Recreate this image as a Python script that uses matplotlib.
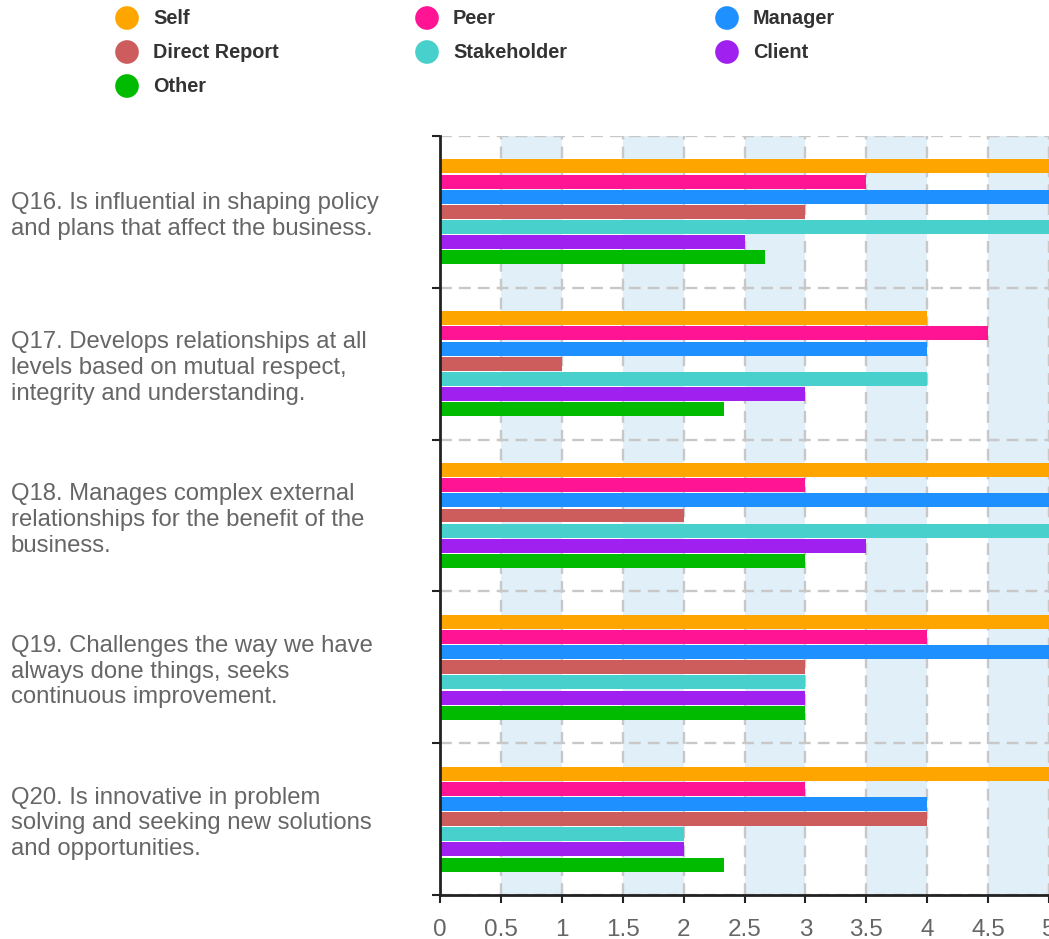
"""Grouped horizontal bar chart of 360 feedback scores."""
import numpy as np
import matplotlib.pyplot as plt
from matplotlib.ticker import FixedLocator

plt.rcParams['font.family'] = ['Liberation Sans', 'DejaVu Sans']

questions = [
    "Q16. Is influential in shaping policy\nand plans that affect the business.",
    "Q17. Develops relationships at all\nlevels based on mutual respect,\nintegrity and understanding.",
    "Q18. Manages complex external\nrelationships for the benefit of the\nbusiness.",
    "Q19. Challenges the way we have\nalways done things, seeks\ncontinuous improvement.",
    "Q20. Is innovative in problem\nsolving and seeking new solutions\nand opportunities.",
]
series = ["Self", "Peer", "Manager", "Direct Report", "Stakeholder", "Client", "Other"]
colors = ["#FFA500", "#FF1493", "#1E90FF", "#CD5C5C", "#48D1CC", "#A020F0", "#00BB00"]

self_scores = [5, 4, 5, 5, 5]
peer_scores = [3.5, 4.5, 3, 4, 3]
manager_scores = [5, 4, 5, 5, 4]
direct_scores = [3, 1, 2, 3, 4]
stakeholder_scores = [5, 4, 5, 3, 2]
client_scores = [2.5, 3, 3.5, 3, 2]
other_scores = [2.67, 2.33, 3, 3, 2.33]
scores = [self_scores, peer_scores, manager_scores, direct_scores,
          stakeholder_scores, client_scores, other_scores]

x_ticks = np.arange(0, 5.01, 0.5)
x_labels = ["0", "0.5", "1", "1.5", "2", "2.5", "3", "3.5", "4", "4.5", "5"]

fig = plt.figure(figsize=(10.49, 9.39), dpi=100)
W, H = 1049, 939
ax = fig.add_axes([440 / W, 1 - 895 / H, (1049 - 440) / W, (895 - 136) / H])

n_q = len(questions)
centers = np.arange(n_q) + 0.5
slot = 0.1
for k, (name, vals, col) in enumerate(zip(series, scores, colors)):
    ax.barh(centers + (k - 3) * slot, vals, height=0.092, color=col,
            zorder=3, label=name)

# alternating shaded bands
for lo in x_ticks[1::2]:
    ax.axvspan(lo, lo + 0.5, color="#E0EFF8", zorder=0, lw=0)

ax.set_xlim(0, 5)
ax.set_ylim(n_q, 0)

ax.set_xticks(x_ticks)
ax.set_xticklabels(x_labels)
ax.yaxis.set_major_locator(FixedLocator(np.arange(n_q + 1)))
ax.yaxis.set_minor_locator(FixedLocator(centers))
ax.set_yticklabels([], minor=False)
ax.set_yticklabels(questions, minor=True)

ax.grid(True, which="major", color="#C8C8C8", lw=1.7, dashes=(5, 3), zorder=1)
ax.tick_params(axis="y", which="major", length=6, width=1.5, color="#222222")
ax.tick_params(axis="y", which="minor", length=0, pad=309, labelsize=17.2,
               labelcolor="#666666")
for t in ax.get_yticklabels(minor=True):
    t.set_ha("left")
    t.set_linespacing(1.22)
ax.tick_params(axis="x", length=6, width=1.5, color="#222222", pad=11,
               labelsize=17.5, labelcolor="#666666")

for side in ["top", "right"]:
    ax.spines[side].set_visible(False)
for side in ["left", "bottom"]:
    ax.spines[side].set_color("#222222")
    ax.spines[side].set_linewidth(2)
    ax.spines[side].set_zorder(4)

# legend drawn row by row, three columns
leg = fig.add_axes([0, 1 - 110 / H, 1, 110 / H])
leg.set_xlim(0, W)
leg.set_ylim(110, 0)
leg.axis("off")
for i, (name, col) in enumerate(zip(series, colors)):
    cx = 127 + 300 * (i % 3)
    cy = 18 + 34 * (i // 3)
    leg.scatter([cx], [cy], s=290, color=col, edgecolors="none")
    leg.text(cx + 26, cy, name, fontsize=14.3, fontweight="bold",
             color="#333333", va="center", ha="left")

fig.savefig("out.png", dpi=100)
